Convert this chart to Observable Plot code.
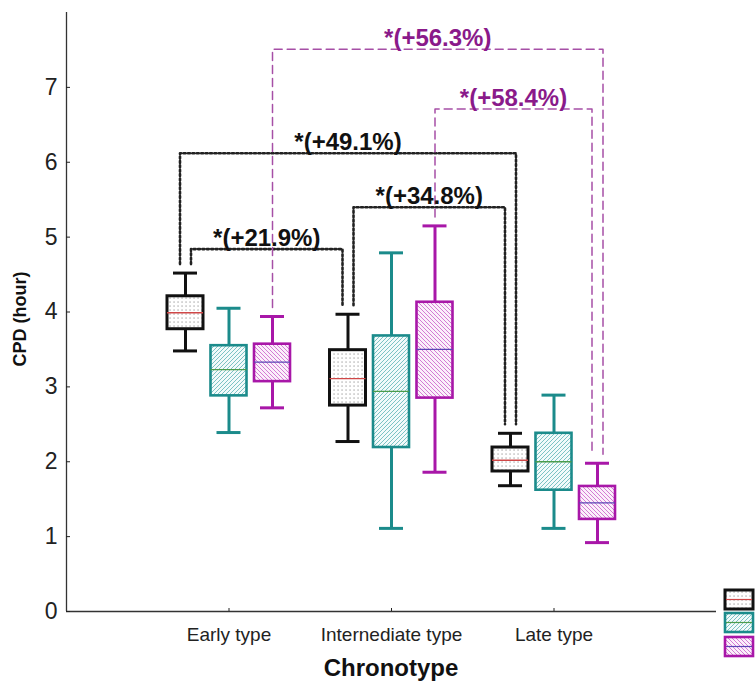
<!DOCTYPE html>
<html><head><meta charset="utf-8">
<script src="https://cdn.jsdelivr.net/npm/d3@7"></script>
<script src="https://cdn.jsdelivr.net/npm/@observablehq/plot@0.6"></script>
<style>
html,body{margin:0;padding:0;background:#fff;}
#wrap{position:relative;width:755px;height:684px;font-family:"Liberation Sans",Arial,sans-serif;}
#legend{position:absolute;left:720px;top:586px;}
</style></head><body>
<svg width="0" height="0" style="position:absolute">
<defs>
 <pattern id="pat0" patternUnits="userSpaceOnUse" width="4" height="4"><rect width="4" height="4" fill="#fff"/><rect x="1.5" y="1.5" width="1.1" height="1.1" fill="#8a8a8a"/></pattern>
 <pattern id="pat1" patternUnits="userSpaceOnUse" width="4" height="4"><rect width="4" height="4" fill="#f2fafa"/><path d="M-1,1 l2,-2 M0,4 l4,-4 M3,5 l2,-2" stroke="#7cc2c4" stroke-width="1"/></pattern>
 <pattern id="pat2" patternUnits="userSpaceOnUse" width="4" height="4"><rect width="4" height="4" fill="#fbf0fb"/><path d="M-1,3 l2,2 M0,0 l4,4 M3,-1 l2,2" stroke="#d47cd4" stroke-width="1"/></pattern>
</defs></svg>
<div id="wrap"></div>
<script>
// ---- data ----
const groups = ["Early type", "Internediate type", "Late type"];
const seriesNames = ["Series 1", "Series 2", "Series 3"];
const yTicks = [0, 1, 2, 3, 4, 5, 6, 7];
// [series][group]
const whiskerLow  = [[3.48, 2.27, 1.68], [2.39, 1.11, 1.11], [2.72, 1.86, 0.92]];
const quartile1   = [[3.77, 2.75, 1.87], [2.88, 2.19, 1.62], [3.07, 2.85, 1.23]];
const medians     = [[3.99, 3.11, 2.02], [3.23, 2.94, 2.00], [3.33, 3.50, 1.45]];
const quartile3   = [[4.21, 3.49, 2.19], [3.55, 3.68, 2.38], [3.57, 4.13, 1.67]];
const whiskerHigh = [[4.52, 3.97, 2.38], [4.05, 4.79, 2.89], [3.94, 5.15, 1.98]];
// significance brackets
const bracketLabels    = ["*(+21.9%)", "*(+49.1%)", "*(+34.8%)", "*(+56.3%)", "*(+58.4%)"];
const bracketLevels    = [4.84, 6.12, 5.40, 7.51, 6.71];
const bracketSeries    = [0, 0, 0, 2, 2];
const bracketFromGroup = [0, 0, 1, 0, 1];
const bracketToGroup   = [1, 2, 2, 2, 2];

// ---- styles ----
const strokeColors = ["#111111", "#1b8b8b", "#a817a8"];
const medianColors = ["#d04848", "#4c9c4c", "#5a45b5"];
const boxStrokeW = [3, 2.6, 2.6];
const fills = ["url(#pat0)", "url(#pat1)", "url(#pat2)"];
const W = 755, H = 684, mL = 66, mR = 39, mT = 12, mB = 73;
const unitPerPx = 4 / (W - mL - mR);
const offset = 43.5 * unitPerPx, boxHalf = 18 * unitPerPx, capHalf = 12 * unitPerPx;
const legGap = 11 * unitPerPx;

const xOf = (g, s) => g + 1 + (s - 1) * offset;
const rows = [];
for (let s = 0; s < 3; s++) for (let g = 0; g < 3; g++) {
  rows.push({s, g, x: xOf(g, s), lo: whiskerLow[s][g], q1: quartile1[s][g], med: medians[s][g], q3: quartile3[s][g], hi: whiskerHigh[s][g]});
}

// legs per box
const legs = {};
bracketLabels.forEach((lab, i) => {
  const s = bracketSeries[i];
  [[bracketFromGroup[i], false], [bracketToGroup[i], true]].forEach(([g, isRight]) => {
    const k = g + "-" + s;
    (legs[k] = legs[k] || []).push({i, isRight, level: bracketLevels[i]});
  });
});
const legX = {};
Object.entries(legs).forEach(([k, arr]) => {
  arr.sort((a, b) => (a.isRight === b.isRight ? (a.isRight ? a.level - b.level : b.level - a.level) : (a.isRight ? -1 : 1)));
  const [g, s] = k.split("-").map(Number);
  arr.forEach((l, j) => { legX[l.i + (l.isRight ? "R" : "L")] = xOf(g, s) + (j - (arr.length - 1) / 2) * legGap; });
});
const bracketPts = [];
const bracketText = [];
bracketLabels.forEach((lab, i) => {
  const s = bracketSeries[i];
  const xl = legX[i + "L"], xr = legX[i + "R"];
  const yl = whiskerHigh[s][bracketFromGroup[i]] + 0.12;
  const yr = whiskerHigh[s][bracketToGroup[i]] + 0.12;
  const lv = bracketLevels[i];
  [[xl, yl], [xl, lv], [xr, lv], [xr, yr]].forEach(([x, y]) => bracketPts.push({id: i, s, x, y}));
  bracketText.push({s, x: (xl + xr) / 2, y: lv, text: lab});
});

const marks = [
  Plot.ruleY([0], {stroke: "#333", strokeWidth: 1.3}),
  Plot.ruleX([0], {stroke: "#333", strokeWidth: 1.3}),
  Plot.axisY({ticks: yTicks, tickSize: -4, tickPadding: 13, fontSize: 23, label: null, color: "#222"}),
  Plot.axisX({ticks: [1, 2, 3], tickFormat: d => groups[d - 1], tickSize: -3, tickPadding: 19, fontSize: 19, label: null, color: "#222"})
];
for (let s = 0; s < 3; s++) {
  const r = rows.filter(d => d.s === s);
  const c = strokeColors[s];
  marks.push(
    Plot.ruleX(r, {x: "x", y1: "lo", y2: "q1", stroke: c, strokeWidth: 3}),
    Plot.ruleX(r, {x: "x", y1: "q3", y2: "hi", stroke: c, strokeWidth: 3}),
    Plot.ruleY(r, {y: "hi", x1: d => d.x - capHalf, x2: d => d.x + capHalf, stroke: c, strokeWidth: 3}),
    Plot.ruleY(r, {y: "lo", x1: d => d.x - capHalf, x2: d => d.x + capHalf, stroke: c, strokeWidth: 3}),
    Plot.rect(r, {x1: d => d.x - boxHalf, x2: d => d.x + boxHalf, y1: "q1", y2: "q3", fill: fills[s], stroke: c, strokeWidth: boxStrokeW[s]}),
    Plot.ruleY(r, {y: "med", x1: d => d.x - boxHalf, x2: d => d.x + boxHalf, stroke: medianColors[s], strokeWidth: 1.3})
  );
}
marks.push(
  Plot.line(bracketPts.filter(d => d.s === 0), {x: "x", y: "y", z: "id", stroke: "#222", strokeWidth: 2.6, strokeDasharray: "2,2.4", curve: "linear"}),
  Plot.line(bracketPts.filter(d => d.s === 2), {x: "x", y: "y", z: "id", stroke: "#a64fa6", strokeWidth: 1.5, strokeDasharray: "8,5", curve: "linear"}),
  Plot.text(bracketText, {x: "x", y: "y", text: "text", lineAnchor: "bottom", dy: -3, fontSize: 24, fontWeight: "bold", fill: d => d.s === 0 ? "#111" : "#8a1a8a"})
);

const chart = Plot.plot({
  width: W, height: H,
  marginLeft: mL, marginRight: mR, marginTop: mT, marginBottom: mB,
  x: {type: "linear", domain: [0, 4], axis: null},
  y: {domain: [0, 8], axis: null},
  color: {type: "identity"},
  style: {fontFamily: "'Liberation Sans', Arial, sans-serif", background: "#fff", overflow: "visible"},
  marks
});
const wrap = document.getElementById("wrap");
wrap.appendChild(chart);

// axis titles
const svg = d3.select(chart);
svg.append("text").attr("transform", "translate(391,676)").attr("text-anchor", "middle")
  .attr("font-size", 24).attr("font-weight", "bold").attr("fill", "#111").text("Chronotype");
svg.append("text").attr("transform", "translate(26,319) rotate(-90)").attr("text-anchor", "middle")
  .attr("font-size", 18).attr("font-weight", "bold").attr("fill", "#111").text("CPD (hour)");

// legend swatches (text cut off in the reference)
const leg = d3.select(wrap).append("svg").attr("id", "legend").attr("width", 35).attr("height", 74);
const swY = [4, 27, 51];
seriesNames.forEach((name, s) => {
  const g = leg.append("g");
  g.append("title").text(name);
  g.append("rect").attr("x", 5).attr("y", swY[s]).attr("width", 28).attr("height", 19)
    .attr("fill", fills[s]).attr("stroke", strokeColors[s]).attr("stroke-width", boxStrokeW[s]);
  g.append("line").attr("x1", 6).attr("x2", 32).attr("y1", swY[s] + 9.5).attr("y2", swY[s] + 9.5)
    .attr("stroke", medianColors[s]).attr("stroke-width", 1.2);
});
</script>
</body></html>
